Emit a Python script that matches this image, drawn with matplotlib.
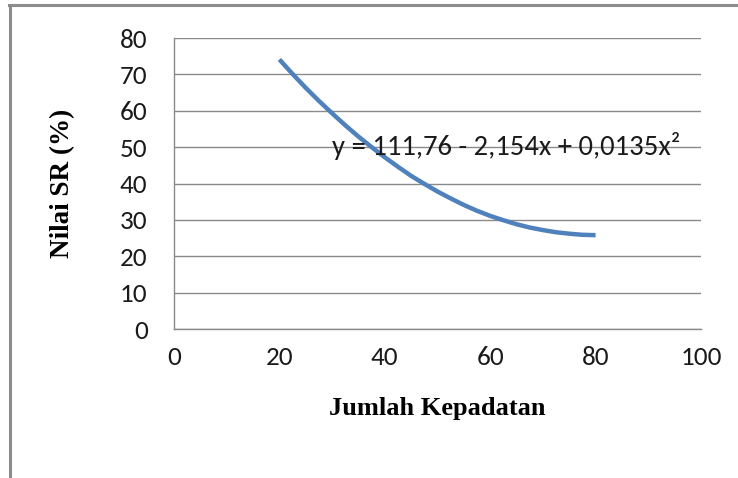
import matplotlib
matplotlib.use("Agg")
import matplotlib.pyplot as plt
from matplotlib.lines import Line2D

# --- data ---
kepadatan = [20, 22.5, 25, 27.5, 30, 32.5, 35, 37.5, 40, 42.5, 45, 47.5, 50,
             52.5, 55, 57.5, 60, 62.5, 65, 67.5, 70, 72.5, 75, 77.5, 80]
nilai_sr = [74.1, 70.1, 66.3, 62.7, 59.3, 56.0, 52.9, 50.0, 47.2, 44.6, 42.1, 39.9, 37.8,
            35.9, 34.1, 32.5, 31.1, 29.9, 28.8, 27.9, 27.2, 26.6, 26.2, 25.9, 25.8]
x_ticks = [0, 20, 40, 60, 80, 100]
y_ticks = [0, 10, 20, 30, 40, 50, 60, 70, 80]
persamaan = "y = 111,76 - 2,154x + 0,0135x\u00b2"

tick_font = ["Carlito", "Lato", "DejaVu Sans"]
label_font = ["Liberation Serif", "DejaVu Serif"]
grid_col = "#8a8a8a"

fig = plt.figure(figsize=(7.38, 4.78), dpi=100)
ax = fig.add_axes([0.2358, 0.3117, 0.714, 0.6088])

ax.plot(kepadatan, nilai_sr, color="#4F81BD", lw=3.2, solid_capstyle="butt")

ax.set_xlim(0, 100)
ax.set_ylim(0, 80)
ax.set_xticks(x_ticks)
ax.set_yticks(y_ticks)
ax.set_xticklabels([str(v) for v in x_ticks], family=tick_font, fontsize=19.5)
ax.set_yticklabels([str(v) for v in y_ticks], family=tick_font, fontsize=19.5)
ax.tick_params(axis="both", length=0, colors="#1a1a1a")
ax.tick_params(axis="y", pad=19)
ax.tick_params(axis="x", pad=12)

ax.grid(axis="y", color=grid_col, lw=1)
ax.set_axisbelow(True)
for side in ["top", "right"]:
    ax.spines[side].set_visible(False)
for side in ["left", "bottom"]:
    ax.spines[side].set_color(grid_col)
    ax.spines[side].set_linewidth(1)

ax.text(30, 50.3, persamaan, family=tick_font, fontsize=20.6,
        ha="left", va="center", color="#1a1a1a")

ax.set_xlabel("Jumlah Kepadatan", family=label_font, weight="bold", fontsize=19)
ax.set_ylabel("Nilai SR (%)", family=label_font, weight="bold", fontsize=19.5)
ax.xaxis.set_label_coords(0.5, -0.273)
ax.xaxis.label.set_va("center")
ax.yaxis.set_label_coords(-0.212, 0.5)
ax.yaxis.label.set_va("center")

# outer frame (top and left edges only visible)
fig.add_artist(Line2D([9 / 738, 1], [1 - 5 / 478, 1 - 5 / 478], color="#8c8c8c", lw=2.2))
fig.add_artist(Line2D([10 / 738, 10 / 738], [0, 1 - 5 / 478], color="#8c8c8c", lw=2.2))

fig.savefig("out.png", dpi=100)
